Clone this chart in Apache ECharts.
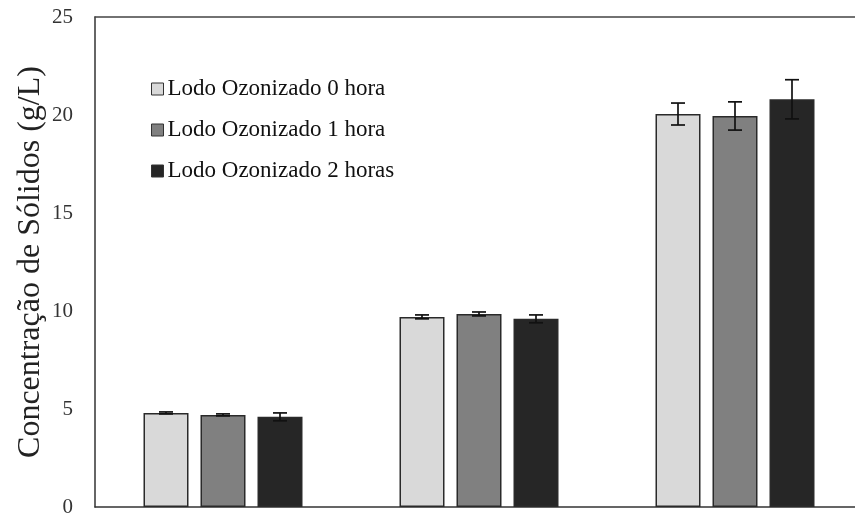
<!DOCTYPE html>
<html>
<head>
<meta charset="utf-8">
<script src="https://cdn.jsdelivr.net/npm/echarts@6/dist/echarts.min.js"></script>
<style>
  html, body { margin: 0; padding: 0; background: #fff; }
  #chart { width: 855px; height: 515px; }
</style>
</head>
<body>
<div id="chart"></div>
<script>
// Sample groups (no category labels are drawn under the axis)
const categories = ['A', 'B', 'C'];

const seriesNames = ['Lodo Ozonizado 0 hora', 'Lodo Ozonizado 1 hora', 'Lodo Ozonizado 2 horas'];

// Mean solids concentration (g/L) per group
const lodo0h = [4.8, 9.7, 20.05];
const lodo1h = [4.7, 9.85, 19.95];
const lodo2h = [4.6, 9.6, 20.8];

// Standard deviation (g/L)
const erro0h = [0.05, 0.1, 0.56];
const erro1h = [0.05, 0.1, 0.72];
const erro2h = [0.2, 0.2, 1.0];

const yTicks = [0, 5, 10, 15, 20, 25];

const colors = ['#d9d9d9', '#808080', '#262626'];
const means = [lodo0h, lodo1h, lodo2h];
const errors = [erro0h, erro1h, erro2h];

const chart = echarts.init(document.getElementById('chart'), null, { renderer: 'canvas' });

const BAR_W = 45;
const BAR_GAP = 12;

function errorSeries(idx) {
  return {
    type: 'custom',
    name: seriesNames[idx] + ' erro',
    z: 10,
    silent: true,
    data: categories.map((c, i) => [i, means[idx][i] - errors[idx][i], means[idx][i] + errors[idx][i]]),
    renderItem: function (params, api) {
      const xi = api.value(0);
      const lo = api.coord([xi, api.value(1)]);
      const hi = api.coord([xi, api.value(2)]);
      const offset = (idx - 1) * (BAR_W + BAR_GAP);
      const x = lo[0] + offset;
      const cap = 7;
      const style = { stroke: '#111', lineWidth: 1.7 };
      return {
        type: 'group',
        children: [
          { type: 'line', shape: { x1: x, y1: hi[1], x2: x, y2: lo[1] }, style: style },
          { type: 'line', shape: { x1: x - cap, y1: hi[1], x2: x + cap, y2: hi[1] }, style: style },
          { type: 'line', shape: { x1: x - cap, y1: lo[1], x2: x + cap, y2: lo[1] }, style: style }
        ]
      };
    }
  };
}

const barSeries = seriesNames.map((name, idx) => ({
  type: 'bar',
  name: name,
  data: means[idx],
  barWidth: BAR_W,
  barGap: (BAR_GAP / BAR_W * 100) + '%',
  itemStyle: { color: colors[idx], borderColor: '#2a2a2a', borderWidth: 1.5 }
}));

const option = {
  animation: false,
  backgroundColor: '#ffffff',
  textStyle: { fontFamily: 'Liberation Serif' },
  grid: {
    left: 95, top: 17, width: 768, height: 490,
    outerBoundsMode: 'none',
    containLabel: false
  },
  legend: {
    data: seriesNames,
    orient: 'vertical',
    left: 151,
    top: 77,
    padding: 0,
    itemWidth: 12,
    itemHeight: 12,
    itemGap: 17,
    icon: 'rect',
    textStyle: { fontFamily: 'Liberation Serif', fontSize: 23, lineHeight: 24, color: '#111', padding: [0, 0, 0, -1] },
    itemStyle: { borderColor: '#333', borderWidth: 1 }
  },
  xAxis: [
    {
      type: 'category',
      data: categories,
      axisLine: { lineStyle: { color: '#333', width: 1.5 } },
      axisTick: { show: false },
      axisLabel: { show: false }
    },
    {
      // top frame line of the plot area
      type: 'category',
      position: 'top',
      data: categories,
      axisLine: { show: true, lineStyle: { color: '#444', width: 1.5 } },
      axisTick: { show: false },
      axisLabel: { show: false }
    }
  ],
  yAxis: {
    type: 'value',
    min: yTicks[0],
    max: yTicks[yTicks.length - 1],
    interval: 5,
    name: 'Concentração de Sólidos (g/L)',
    nameLocation: 'middle',
    nameGap: 48,
    nameMoveOverlap: false,
    nameTextStyle: { fontFamily: 'Liberation Serif', fontSize: 32, color: '#222' },
    axisLine: { show: true, lineStyle: { color: '#333', width: 1.5 } },
    axisTick: { show: false },
    splitLine: { show: false },
    axisLabel: { fontFamily: 'Liberation Serif', fontSize: 21, color: '#333', margin: 22 }
  },
  series: barSeries.concat([errorSeries(0), errorSeries(1), errorSeries(2)])
};

chart.setOption(option);
</script>
</body>
</html>
